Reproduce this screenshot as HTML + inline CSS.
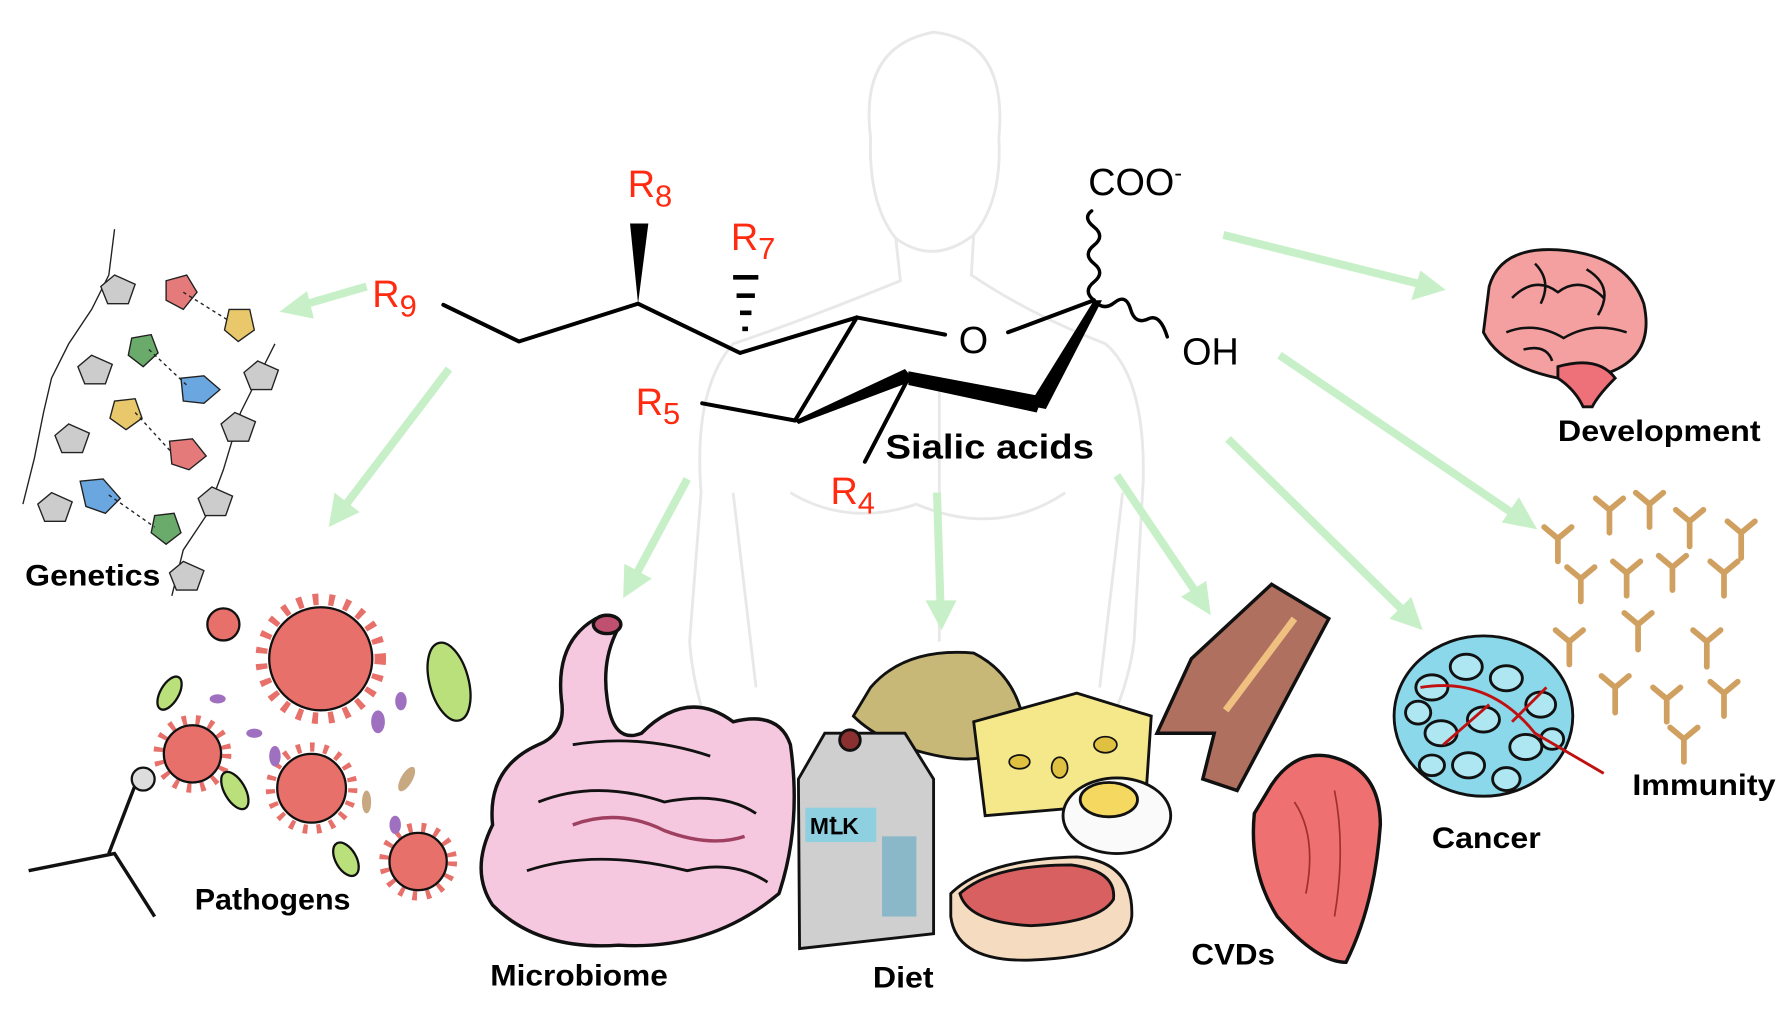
<!DOCTYPE html>
<html><head><meta charset="utf-8"><style>
html,body{margin:0;padding:0;background:#fff;width:1787px;height:1014px;overflow:hidden}
svg{display:block}
text{font-family:"Liberation Sans",sans-serif}
.lb{font-weight:bold;font-size:26px;fill:#000}
.r{fill:#ff2a10;font-size:33px}
.ar{stroke:#c8f0c8;stroke-width:7;fill:none}
.ah{fill:#c8f0c8}
</style></head><body>
<svg width="1787" height="1014" viewBox="0 0 1560 885" xmlns="http://www.w3.org/2000/svg">
<rect width="1560" height="885" fill="#fff"/>
<!-- faint human -->
<g stroke="#e8e8e8" stroke-width="2.5" fill="none">
<path d="M760 120 Q750 40 815 28 Q880 35 872 120 Q875 175 850 205 L848 240 Q900 275 965 300 Q1000 330 998 420 L990 560 Q985 600 965 640"/>
<path d="M760 120 Q758 178 782 208 L786 245 Q700 280 640 300 Q605 340 612 430 L602 560 Q605 600 620 640"/>
<path d="M782 208 Q815 232 850 205"/>
<path d="M690 430 Q740 460 800 440 Q870 470 930 430"/>
<path d="M640 430 L660 600 M980 430 L960 600 M820 330 L820 560"/>
</g>
<!-- arrows -->
<g>
<line class="ar" x1="1068" y1="205" x2="1240" y2="248"/><polygon class="ah" points="1262,253 1232,262 1240,236"/>
<line class="ar" x1="1117" y1="310" x2="1322" y2="449"/><polygon class="ah" points="1342,462 1311,456 1326,434"/>
<line class="ar" x1="1072" y1="383" x2="1225" y2="533"/><polygon class="ah" points="1242,550 1213,540 1232,521"/>
<line class="ar" x1="975" y1="415" x2="1044" y2="517"/><polygon class="ah" points="1057,537 1031,521 1053,507"/>
<line class="ar" x1="818" y1="430" x2="821" y2="528"/><polygon class="ah" points="822,550 808,524 835,524"/>
<line class="ar" x1="600" y1="418" x2="555" y2="502"/><polygon class="ah" points="544,522 545,492 569,505"/>
<line class="ar" x1="392" y1="322" x2="300" y2="443"/><polygon class="ah" points="287,460 292,430 314,447"/>
<line class="ar" x1="320" y1="250" x2="265" y2="266"/><polygon class="ah" points="244,272 268,254 274,278"/>
</g>
<!-- chemical structure -->
<g stroke="#000" stroke-width="3.5" fill="none" stroke-linecap="round" stroke-linejoin="round">
<polyline points="387,266 453,298 557,265 646,308 748,277 825,292"/>
<line x1="880" y1="290" x2="955" y2="262"/>
<line x1="748" y1="277" x2="694" y2="367"/>
<line x1="613" y1="352" x2="694" y2="367"/>
<line x1="793" y1="330" x2="755" y2="403"/>
<path d="M955 262 q-10 -8 0 -16 q10 -8 0 -16 q-10 -8 0 -16 q10 -8 0 -16 q-10 -8 -2 -14" stroke-width="3"/>
<path d="M955 262 q8 10 18 2 q10 -8 14 6 q4 14 16 8 q10 -4 16 16" stroke-width="3"/>
</g>
<g fill="#000">
<polygon points="557,265 550,195 566,195"/>
<polygon points="955,262 962,262 913,357 898,354"/>
<polygon points="793,324 910,346 905,360 793,336"/>
<polygon points="694,367 790,322 798,332 697,370"/>
<rect x="640" y="240" width="22" height="4"/><rect x="643" y="256" width="16" height="4"/><rect x="646" y="271" width="10" height="4"/><rect x="648" y="285" width="5" height="4"/>
</g>
<text x="548" y="172" class="r">R<tspan font-size="27" dy="8">8</tspan></text>
<text x="638" y="218" class="r">R<tspan font-size="27" dy="8">7</tspan></text>
<text x="325" y="268" class="r">R<tspan font-size="27" dy="8">9</tspan></text>
<text x="555" y="362" class="r">R<tspan font-size="27" dy="8">5</tspan></text>
<text x="725" y="440" class="r">R<tspan font-size="27" dy="8">4</tspan></text>
<text x="837" y="308" font-size="33">O</text>
<text x="1032" y="318" font-size="33">OH</text>
<text x="950" y="170" font-size="33">COO<tspan font-size="20" dy="-12">-</tspan></text>
<text x="773" y="400" font-size="30" font-weight="bold" textLength="182" lengthAdjust="spacingAndGlyphs">Sialic acids</text>

<!-- DNA -->
<g stroke="#222" stroke-width="1.2" fill="#ccc">
<path d="M100 200 L95 240 L80 270 L60 300 L45 330 L38 360 L30 400 L20 440 M240 300 L225 330 L210 360 L195 410 L180 450 L160 480 L150 520" fill="none"/>
<polygon points="100,240 118,248 112,265 94,265 88,250"/>
<polygon points="80,310 98,318 92,335 74,335 68,320"/>
<polygon points="60,370 78,378 72,395 54,395 48,380"/>
<polygon points="45,430 63,438 57,455 39,455 33,440"/>
<polygon points="225,315 243,323 237,340 219,340 213,325"/>
<polygon points="205,360 223,368 217,385 199,385 193,370"/>
<polygon points="185,425 203,433 197,450 179,450 173,435"/>
<polygon points="160,490 178,498 172,515 154,515 148,500"/>
<polygon points="145,245 163,240 172,255 160,270 145,262" fill="#e57a7a"/>
<polygon points="200,270 218,270 222,288 208,298 196,288" fill="#e8c86a"/>
<polygon points="115,295 132,292 138,308 125,320 112,310" fill="#6aaa6a"/>
<polygon points="158,330 178,328 192,340 178,352 160,350" fill="#6aa6e0"/>
<polygon points="100,350 118,348 124,365 110,375 96,365" fill="#e8c86a"/>
<polygon points="148,385 168,383 180,398 165,410 150,405" fill="#e57a7a"/>
<polygon points="70,420 90,418 105,435 92,448 75,442" fill="#6aa6e0"/>
<polygon points="135,450 152,448 158,465 145,475 132,465" fill="#6aaa6a"/>
<path d="M160 255 L200 280 M130 305 L165 338 M118 360 L150 395 M95 432 L135 460" stroke-dasharray="3 3" fill="none"/>
</g>
<text x="22" y="511" class="lb" textLength="118" lengthAdjust="spacingAndGlyphs">Genetics</text>

<!-- Pathogens -->
<g stroke="#111" stroke-width="2">
<circle cx="280" cy="575" r="52" fill="none" stroke="#e8706a" stroke-width="10" stroke-dasharray="5 9"/>
<circle cx="280" cy="575" r="45" fill="#e8706a"/>
<circle cx="168" cy="658" r="30" fill="none" stroke="#e8706a" stroke-width="8" stroke-dasharray="4 8"/>
<circle cx="168" cy="658" r="25" fill="#e8706a"/>
<circle cx="272" cy="688" r="36" fill="none" stroke="#e8706a" stroke-width="8" stroke-dasharray="4 8"/>
<circle cx="272" cy="688" r="30" fill="#e8706a"/>
<circle cx="365" cy="752" r="30" fill="none" stroke="#e8706a" stroke-width="8" stroke-dasharray="4 8"/>
<circle cx="365" cy="752" r="25" fill="#e8706a"/>
<circle cx="195" cy="545" r="14" fill="#e8706a"/>
<ellipse cx="392" cy="595" rx="17" ry="35" fill="#b9e07a" transform="rotate(-15 392 595)"/>
<ellipse cx="148" cy="605" rx="8" ry="16" fill="#b9e07a" transform="rotate(30 148 605)"/>
<ellipse cx="205" cy="690" rx="9" ry="18" fill="#b9e07a" transform="rotate(-30 205 690)"/>
<ellipse cx="302" cy="750" rx="9" ry="16" fill="#b9e07a" transform="rotate(-30 302 750)"/>
<path d="M25 760 L100 745 L135 800 M95 745 L120 680" fill="none" stroke-width="3"/>
<circle cx="125" cy="680" r="10" fill="#ddd"/>
</g>
<g fill="#a070c0"><ellipse cx="330" cy="630" rx="6" ry="10"/><ellipse cx="240" cy="660" rx="5" ry="9"/><ellipse cx="350" cy="612" rx="5" ry="8"/><ellipse cx="345" cy="720" rx="5" ry="8"/><ellipse cx="190" cy="610" rx="7" ry="4"/><ellipse cx="222" cy="640" rx="7" ry="4"/></g>
<g fill="#c8a880"><ellipse cx="355" cy="680" rx="5" ry="12" transform="rotate(30 355 680)"/><ellipse cx="320" cy="700" rx="4" ry="10"/></g>
<text x="170" y="794" class="lb" textLength="136" lengthAdjust="spacingAndGlyphs">Pathogens</text>

<!-- Intestine -->
<g stroke="#111" stroke-width="3" fill="#f5c8e0">
<path d="M520 540 Q485 560 490 610 Q495 640 470 650 Q425 670 430 720 Q410 760 430 790 Q470 830 540 825 Q620 830 680 780 Q700 720 690 650 Q680 620 640 630 Q600 600 560 640 Q535 650 530 610 Q525 575 540 548 Z"/>
<path d="M470 700 Q520 680 580 700 Q630 690 660 710 M460 760 Q520 740 600 760 Q640 750 670 770 M500 650 Q560 640 620 660" fill="none" stroke-width="2.5"/>
<path d="M500 720 Q540 705 580 725 Q620 740 650 730" fill="none" stroke="#a04060" stroke-width="3"/>
<ellipse cx="530" cy="545" rx="12" ry="8" fill="#c05070"/>
</g>
<text x="428" y="860" class="lb" textLength="155" lengthAdjust="spacingAndGlyphs">Microbiome</text>

<!-- Diet -->
<g stroke="#111" stroke-width="2.5">
<path d="M760 600 Q790 565 850 570 Q890 590 895 640 Q870 670 820 660 Q770 650 745 625 Z" fill="#c8b878"/>
<path d="M850 630 L940 605 L1005 625 L1000 700 L860 712 Z" fill="#f5e88a"/>
<g fill="#e0c040" stroke-width="1.5"><ellipse cx="890" cy="665" rx="9" ry="6"/><ellipse cx="925" cy="670" rx="7" ry="9"/><ellipse cx="965" cy="650" rx="10" ry="7"/></g>
<ellipse cx="975" cy="712" rx="47" ry="33" fill="#fafafa"/>
<ellipse cx="968" cy="698" rx="25" ry="15" fill="#f5d860"/>
<path d="M830 780 Q860 750 940 748 Q990 752 988 800 Q985 835 900 838 Q835 840 830 800 Z" fill="#f5dcc0"/>
<path d="M838 780 Q865 755 935 755 Q975 760 972 785 Q960 805 900 808 Q845 805 838 780 Z" fill="#d86060"/>
<path d="M697 680 L720 640 L790 640 L815 680 L815 815 L698 828 Z" fill="#cfcfcf"/>
<circle cx="742" cy="646" r="9" fill="#8a3030"/>
<rect x="770" y="730" width="30" height="70" fill="#8ab8c8" stroke="none"/>
</g>
<rect x="703" y="705" width="62" height="30" fill="#8fd0e0"/>
<text x="707" y="728" font-size="20" font-weight="bold">MꝈK</text>
<text x="762" y="862" class="lb" textLength="53" lengthAdjust="spacingAndGlyphs">Diet</text>

<!-- CVDs -->
<g stroke="#111" stroke-width="3">
<path d="M1040 575 L1110 510 L1160 540 L1080 690 L1050 680 L1060 640 L1010 640 Z" fill="#b07060"/>
<path d="M1070 620 L1130 540" stroke="#f0c080" stroke-width="6"/>
<path d="M1110 685 Q1130 655 1160 660 Q1205 670 1205 720 Q1200 790 1175 840 Q1150 840 1115 800 Q1090 760 1095 710 Z" fill="#ee7070"/>
<path d="M1130 700 Q1150 730 1140 780 M1165 690 Q1175 740 1165 800" fill="none" stroke="#a03030" stroke-width="1.5"/>
</g>
<text x="1040" y="842" class="lb" textLength="73" lengthAdjust="spacingAndGlyphs">CVDs</text>

<!-- Cancer -->
<g stroke="#111" stroke-width="2.5">
<ellipse cx="1295" cy="625" rx="78" ry="70" fill="#8ad8ea"/>
<g fill="#aee6f2"><ellipse cx="1250" cy="600" rx="14" ry="11"/><ellipse cx="1280" cy="582" rx="14" ry="11"/><ellipse cx="1315" cy="592" rx="14" ry="11"/><ellipse cx="1345" cy="615" rx="13" ry="11"/><ellipse cx="1258" cy="640" rx="14" ry="11"/><ellipse cx="1295" cy="628" rx="14" ry="11"/><ellipse cx="1332" cy="652" rx="14" ry="11"/><ellipse cx="1282" cy="668" rx="14" ry="11"/><ellipse cx="1238" cy="622" rx="11" ry="10"/><ellipse cx="1315" cy="680" rx="12" ry="10"/><ellipse cx="1355" cy="645" rx="10" ry="9"/><ellipse cx="1250" cy="668" rx="11" ry="9"/></g>
<path d="M1240 600 Q1300 590 1340 640 L1400 675 M1300 615 L1260 650 M1320 630 L1350 600" stroke="#c01010" stroke-width="2.5" fill="none"/>
</g>
<text x="1250" y="740" class="lb" textLength="95" lengthAdjust="spacingAndGlyphs">Cancer</text>

<!-- Brain -->
<g stroke="#111" stroke-width="2.5">
<path d="M1300 250 Q1310 215 1360 218 Q1420 222 1435 265 Q1445 310 1405 325 Q1395 340 1360 330 Q1310 320 1295 290 Z" fill="#f4a0a0"/>
<path d="M1360 320 Q1395 310 1410 330 Q1395 345 1390 355 L1382 355 Q1375 340 1360 330 Z" fill="#ee7078"/>
<path d="M1320 260 Q1340 240 1360 255 Q1380 240 1400 260 M1315 290 Q1340 280 1365 295 Q1390 280 1420 290 M1340 230 Q1355 245 1345 265 M1385 235 Q1410 250 1395 275 M1330 305 Q1350 300 1355 315" fill="none" stroke-width="2.2"/>
</g>
<text x="1360" y="385" class="lb" textLength="177" lengthAdjust="spacingAndGlyphs">Development</text>

<!-- Antibodies -->
<g stroke="#d0a060" stroke-width="5" fill="none" stroke-linecap="round">
<path d="M1360 470 l0 20 m0 -20 l-12 -10 m12 10 l12 -10"/>
<path d="M1405 445 l0 20 m0 -20 l-12 -10 m12 10 l12 -10"/>
<path d="M1440 440 l0 20 m0 -20 l-12 -10 m12 10 l12 -10"/>
<path d="M1475 455 l0 22 m0 -22 l-12 -10 m12 10 l12 -10"/>
<path d="M1520 465 l0 22 m0 -22 l-12 -10 m12 10 l12 -10"/>
<path d="M1380 505 l0 20 m0 -20 l-12 -10 m12 10 l12 -10"/>
<path d="M1420 500 l0 20 m0 -20 l-12 -10 m12 10 l12 -10"/>
<path d="M1460 495 l0 20 m0 -20 l-12 -10 m12 10 l12 -10"/>
<path d="M1505 500 l0 20 m0 -20 l-12 -10 m12 10 l12 -10"/>
<path d="M1370 560 l0 20 m0 -20 l-12 -10 m12 10 l12 -10"/>
<path d="M1430 545 l0 22 m0 -22 l-12 -10 m12 10 l12 -10"/>
<path d="M1410 600 l0 22 m0 -22 l-12 -10 m12 10 l12 -10"/>
<path d="M1490 560 l0 22 m0 -22 l-12 -10 m12 10 l12 -10"/>
<path d="M1455 610 l0 20 m0 -20 l-12 -10 m12 10 l12 -10"/>
<path d="M1505 605 l0 20 m0 -20 l-12 -10 m12 10 l12 -10"/>
<path d="M1470 645 l0 20 m0 -20 l-12 -10 m12 10 l12 -10"/>
</g>
<text x="1425" y="694" class="lb" textLength="125" lengthAdjust="spacingAndGlyphs">Immunity</text>
</svg>
</body></html>
